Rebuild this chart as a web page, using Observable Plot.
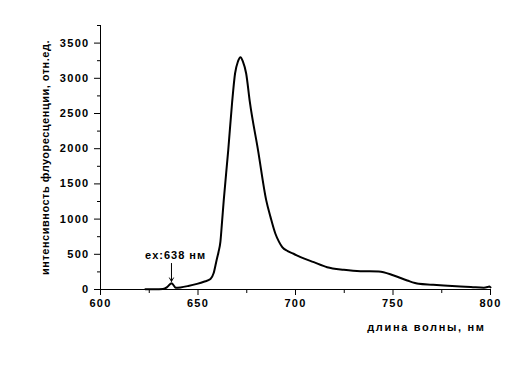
<!DOCTYPE html>
<html>
<head>
<meta charset="utf-8">
<script src="https://cdn.jsdelivr.net/npm/d3@7"></script>
<script src="https://cdn.jsdelivr.net/npm/@observablehq/plot@0.6"></script>
<style>
  html, body { margin: 0; padding: 0; background: #fff; }
  #chart svg { display: block; }
</style>
</head>
<body>
<div id="chart"></div>
<script>
// Wavelength (nm) and fluorescence intensity (arb. units)
const wavelength = [623, 628, 632, 634, 635.5, 636.5, 637.5, 638.5, 641, 645, 649.5, 653, 656.4, 658, 659.5, 660.5, 661.5, 662.3, 663.2, 665.5, 667.5, 669, 670.5, 671.8, 673, 674.7, 676.6, 680.8, 685, 687.2, 689.7, 691.5, 693.2, 696, 699, 702.6, 709.4, 716.2, 724.8, 733.3, 742.7, 750.4, 757.3, 763.2, 770, 776, 784.6, 790, 796.6, 798.5, 799.3, 800];
const intensity  = [5, 5, 8, 30, 70, 90, 60, 25, 30, 50, 80, 110, 150, 230, 412, 530, 680, 950, 1266, 1977, 2660, 3068, 3240, 3300, 3240, 3068, 2660, 1977, 1266, 1028, 792, 680, 602, 545, 508, 460, 388, 317, 280, 260, 256, 199, 128, 81, 68, 57, 43, 35, 24, 35, 43, 30];

const xMajorTicks = [600, 650, 700, 750, 800];
const xMinorTicks = [625, 675, 725, 775];
const yMajorTicks = [0, 500, 1000, 1500, 2000, 2500, 3000, 3500];
const yMinorTicks = [250, 750, 1250, 1750, 2250, 2750, 3250, 3750];

const xLabel = "длина волны, нм";
const yLabel = "интенсивность флуоресценции, отн.ед.";
const annotationText = "ex:638 нм";
const annotationAt = {x: 638.5, y: 480};
const arrowFrom = {x: 636.4, y: 370};
const arrowTo = {x: 636.4, y: 115};

const data = wavelength.map((w, i) => ({w, v: intensity[i]}));

const font = "'Liberation Sans', Arial, sans-serif";

const chart = Plot.plot({
  width: 531,
  height: 367,
  marginLeft: 100,
  marginRight: 41,
  marginTop: 25,
  marginBottom: 78,
  style: {fontFamily: font, fontSize: "11px", fontWeight: "bold", color: "#000", background: "#fff"},
  x: {domain: [600, 800]},
  y: {domain: [0, 3750]},
  marks: [
    Plot.axisX({ticks: xMajorTicks, tickSize: 6, tickPadding: 4, tickFormat: d => String(d), label: null, fontWeight: "bold"}),
    Plot.axisX({ticks: xMinorTicks, tickSize: 4, tickFormat: () => "", label: null}),
    Plot.axisY({ticks: yMajorTicks, tickSize: 6, tickPadding: 5, tickFormat: d => String(d), label: null, fontWeight: "bold"}),
    Plot.axisY({ticks: yMinorTicks, tickSize: 3, tickFormat: () => "", label: null}),
    Plot.ruleX([600], {stroke: "#000", strokeWidth: 1}),
    Plot.ruleY([0], {stroke: "#000", strokeWidth: 1}),
    Plot.line(data, {x: "w", y: "v", stroke: "#000", strokeWidth: 2, curve: "monotone-x"}),
    Plot.arrow([{x1: arrowFrom.x, y1: arrowFrom.y, x2: arrowTo.x, y2: arrowTo.y}], {x1: "x1", y1: "y1", x2: "x2", y2: "y2", stroke: "#000", strokeWidth: 1, headLength: 6}),
    Plot.text([annotationText], {x: annotationAt.x, y: annotationAt.y, text: d => d, fontSize: 11, fontWeight: "bold", fill: "#000"}),
    Plot.text([xLabel], {frameAnchor: "bottom-right", dx: -5, dy: 41, textAnchor: "end", text: d => d, fontSize: 11, fontWeight: "bold", fill: "#000"}),
    Plot.text([yLabel], {frameAnchor: "left", dx: -55, rotate: -90, textAnchor: "middle", text: d => d, fontSize: 11, fontWeight: "bold", fill: "#000"})
  ]
});
d3.select(chart).selectAll("text").each(function () {
  const t = this.textContent;
  let ls = "1.3px";
  if (t === xLabel) ls = "1.65px";
  else if (t === yLabel) ls = "0.5px";
  else if (t === annotationText) ls = "1px";
  this.style.letterSpacing = ls;
});
document.getElementById("chart").appendChild(chart);
</script>
</body>
</html>
